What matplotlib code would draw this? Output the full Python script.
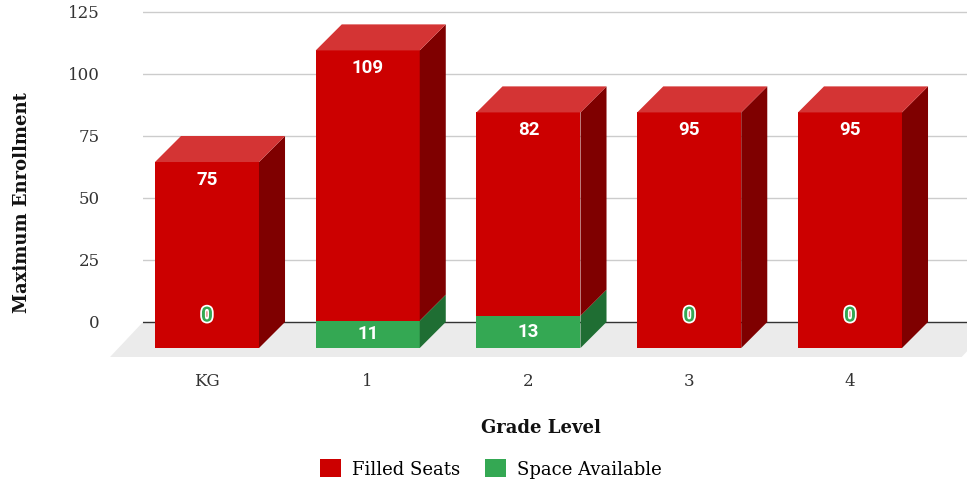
import matplotlib
matplotlib.use("Agg")
import matplotlib.pyplot as plt
from matplotlib.patches import Polygon, Patch
import matplotlib.patheffects as pe

# data
grades = ["KG", "1", "2", "3", "4"]
filled_seats = [75, 109, 82, 95, 95]
space_available = [0, 11, 13, 0, 0]
y_ticks = [0, 25, 50, 75, 100, 125]

RED = "#cc0000"
RED_TOP = "#d43434"
RED_SIDE = "#7f0000"
GREEN = "#34a853"
GREEN_SIDE = "#1f6e33"
SERIF = "DejaVu Serif"

# 3d look: depth offsets in data units
bar_w = 0.647
dx = 0.162
dy = 10.5

fig = plt.figure(figsize=(9.67, 4.84), dpi=100)
ax = fig.add_axes([143 / 967, 1 - 359.2 / 484, 824 / 967, 349.7 / 484])
ax.set_xlim(-0.398, 4.728)
ax.set_ylim(-15, 126)

for s in ax.spines.values():
    s.set_visible(False)

# gridlines on the back wall
for t in y_ticks[1:]:
    ax.axhline(t, color="#cccccc", lw=1, zorder=0)

# floor
ax.add_patch(Polygon([(-0.398, 0), (4.9, 0), (4.9 - 0.205, -14.1), (-0.398 - 0.205, -14.1)],
                     closed=True, facecolor="#ebebeb", edgecolor="none", zorder=1, clip_on=False))
ax.axhline(0, color="#333333", lw=1, zorder=2)

x = list(range(len(grades)))
front_bottom = [-dy] * len(grades)
totals = [f + s for f, s in zip(filled_seats, space_available)]

ax.bar(x, space_available, width=bar_w, bottom=front_bottom, color=GREEN, zorder=3)
ax.bar(x, filled_seats, width=bar_w, bottom=[b + s for b, s in zip(front_bottom, space_available)],
       color=RED, zorder=3)

for i in x:
    r = i + bar_w / 2
    l = i - bar_w / 2
    g = space_available[i]
    top = totals[i]
    if g > 0:
        ax.add_patch(Polygon([(r, -dy), (r + dx, 0), (r + dx, g), (r, g - dy)],
                             closed=True, facecolor=GREEN_SIDE, edgecolor="none", zorder=3))
    ax.add_patch(Polygon([(r, g - dy), (r + dx, g), (r + dx, top), (r, top - dy)],
                         closed=True, facecolor=RED_SIDE, edgecolor="none", zorder=3))
    ax.add_patch(Polygon([(l, top - dy), (r, top - dy), (r + dx, top), (l + dx, top)],
                         closed=True, facecolor=RED_TOP, edgecolor="none", zorder=3))

    # value labels
    ax.annotate(str(filled_seats[i]), (i, top - dy), xytext=(0, -18), textcoords="offset pixels",
                ha="center", va="center", color="white", fontsize=13.5, fontweight="bold",
                family="Roboto", zorder=5)
    if g > 0:
        ax.text(i, -dy + g / 2, str(g), ha="center", va="center", color="white",
                fontsize=13.5, fontweight="bold", family="Roboto", zorder=5)
    else:
        ax.annotate(str(g), (i, -dy), xytext=(0, 32), textcoords="offset pixels",
                    ha="center", va="center", color=GREEN, fontsize=15, fontweight="bold",
                    family="Roboto", zorder=5,
                    path_effects=[pe.withStroke(linewidth=2.5, foreground="white")])

ax.set_yticks(y_ticks)
ax.set_yticklabels([str(t) for t in y_ticks], family=SERIF, fontsize=12, color="#333333")
ax.set_xticks(x)
ax.set_xticklabels(grades, family=SERIF, fontsize=12, color="#333333")
ax.tick_params(axis="y", length=0, pad=31)
ax.tick_params(axis="x", length=0, pad=10)

fig.text(22 / 967, 1 - 203 / 484, "Maximum Enrollment", rotation=90, ha="center", va="center",
         family=SERIF, fontweight="bold", fontsize=13, color="#111111")
fig.text(541 / 967, 1 - 428 / 484, "Grade Level", ha="center", va="center",
         family=SERIF, fontweight="bold", fontsize=13, color="#111111")

handles = [Patch(facecolor=RED, label="Filled Seats"), Patch(facecolor=GREEN, label="Space Available")]
fig.legend(handles=handles, loc="center", bbox_to_anchor=(491 / 967, 1 - 469 / 484), ncol=2,
           frameon=False, prop={"family": SERIF, "size": 13}, handlelength=1.15, handleheight=1.15,
           columnspacing=1.4, handletextpad=0.6)

fig.savefig("out.png", dpi=100)
